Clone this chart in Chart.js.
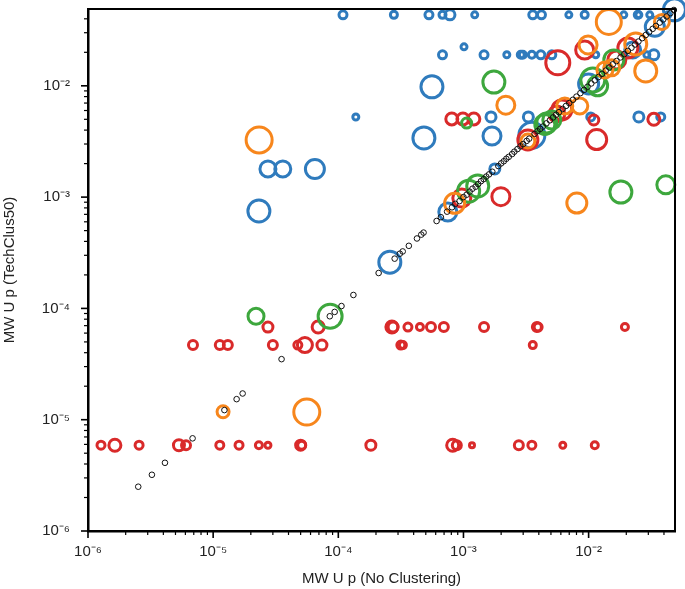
<!DOCTYPE html>
<html>
<head>
<meta charset="utf-8">
<script src="https://cdn.jsdelivr.net/npm/chart.js@4"></script>
<style>
  body { margin: 0; background: #fff; }
  canvas { display: block; }
</style>
</head>
<body>
<canvas id="chart" width="685" height="589"></canvas>
<script>
// [p no clustering, p TechClus50, ring size]
const blue = [
  [1.09e-4, 0.0434, 4], [2.78e-4, 0.0434, 3.5], [5.3e-4, 0.0434, 4], [6.8e-4, 0.0434, 3.5], [7.8e-4, 0.0434, 5],
  [1.23e-3, 0.0434, 3], [3.58e-3, 0.0434, 4], [4.2e-3, 0.0434, 4], [6.95e-3, 0.0434, 3], [9.3e-3, 0.0434, 3.5],
  [1.91e-2, 0.0434, 3], [2.47e-2, 0.0434, 3.5], [2.52e-2, 0.0434, 3], [3.08e-2, 0.0434, 3], [4.3e-2, 0.0434, 3],
  [4.85e-2, 0.0482, 11],
  [6.8e-4, 0.019, 4], [1.01e-3, 0.0224, 3], [1.46e-3, 0.019, 4], [2.22e-3, 0.019, 3], [2.87e-3, 0.019, 3.5],
  [2.98e-3, 0.019, 3.5], [3.52e-3, 0.019, 3.5], [4.15e-3, 0.019, 4], [5.08e-3, 0.019, 4], [1.14e-2, 0.019, 3],
  [2.92e-2, 0.019, 3], [3.32e-2, 0.019, 5],
  [1.38e-4, 5.25e-3, 3], [5.6e-4, 9.8e-3, 11], [4.83e-4, 3.4e-3, 11], [2.74e-5, 1.79e-3, 8], [3.6e-5, 1.79e-3, 8],
  [6.5e-5, 1.79e-3, 9.5], [2.32e-5, 7.5e-4, 11],
  [1.66e-3, 5.25e-3, 5], [1.69e-3, 3.54e-3, 9], [3.3e-3, 5.25e-3, 5], [3.52e-3, 3.6e-3, 13], [1.78e-3, 1.79e-3, 5],
  [7.5e-4, 7.35e-4, 9], [2.58e-4, 2.6e-4, 11],
  [1.04e-2, 5.25e-3, 4], [2.52e-2, 5.25e-3, 5], [3.77e-2, 5.25e-3, 4],
  [1.0e-2, 1.04e-2, 10], [3.38e-2, 3.39e-2, 9.5], [2.25e-2, 2.1e-2, 8]
];

const orange = [
  [2.33e-5, 3.26e-3, 13], [5.6e-5, 1.17e-5, 13], [1.2e-5, 1.18e-5, 6],
  [1.45e-2, 0.0375, 12.5], [9.9e-3, 0.0233, 9], [2.18e-3, 6.7e-3, 9], [6.45e-3, 6.59e-3, 8], [8.5e-3, 6.59e-3, 8],
  [2.86e-2, 0.0136, 11], [2.38e-2, 0.0238, 11], [3.85e-2, 0.0375, 7.5], [3.27e-3, 3.19e-3, 7],
  [8.5e-4, 8.8e-4, 10], [8.05e-3, 8.85e-4, 10], [1.35e-2, 0.0139, 8], [1.53e-2, 0.0145, 8]
];

const green = [
  [2.2e-5, 8.5e-5, 8], [8.6e-5, 8.5e-5, 12], [1.75e-3, 0.0108, 11], [1.06e-3, 4.63e-3, 5],
  [1.81e-2, 1.11e-3, 11], [4.14e-2, 1.29e-3, 9],
  [4.63e-3, 4.63e-3, 10], [4.47e-3, 4.5e-3, 10], [5.08e-3, 4.93e-3, 9],
  [1.1e-3, 1.13e-3, 11], [1.3e-3, 1.26e-3, 11],
  [1.08e-2, 1.13e-2, 12], [1.18e-2, 1.0e-2, 10], [1.59e-2, 1.71e-2, 10]
];

const red = [
  [5.67e-3, 0.0161, 12], [9.3e-3, 0.021, 9], [2.06e-2, 0.0219, 10], [1.99e-3, 1.01e-3, 9],
  [1.16e-2, 3.29e-3, 10], [6.11e-3, 6.07e-3, 10], [5.57e-3, 5.58e-3, 8], [3.27e-3, 3.26e-3, 10],
  [8.07e-4, 5.04e-3, 6], [9.9e-4, 5.04e-3, 6], [1.21e-3, 5.04e-3, 6],
  [1.1e-2, 4.93e-3, 5], [3.32e-2, 5.0e-3, 6], [1.68e-2, 1.71e-2, 9], [9.7e-4, 9.8e-4, 9],
  // row near 7e-5
  [2.74e-5, 6.8e-5, 5], [6.9e-5, 6.8e-5, 6], [2.68e-4, 6.8e-5, 6], [2.74e-4, 6.8e-5, 5], [3.6e-4, 6.8e-5, 4],
  [4.49e-4, 6.8e-5, 3.5], [5.5e-4, 6.8e-5, 4.5], [6.97e-4, 6.8e-5, 4.5], [1.46e-3, 6.8e-5, 4.5],
  [3.86e-3, 6.8e-5, 4.5], [3.95e-3, 6.8e-5, 4], [1.95e-2, 6.8e-5, 3.5],
  // row near 5e-5
  [6.9e-6, 4.68e-5, 4.5], [1.13e-5, 4.68e-5, 4.5], [1.31e-5, 4.68e-5, 4.5], [3.0e-5, 4.68e-5, 4.5],
  [4.75e-5, 4.68e-5, 4], [5.41e-5, 4.68e-5, 7.5], [7.4e-5, 4.68e-5, 5], [3.16e-4, 4.68e-5, 4],
  [3.28e-4, 4.68e-5, 3.5], [3.58e-3, 4.68e-5, 3.5],
  // row near 6e-6
  [1.27e-6, 5.9e-6, 4], [1.64e-6, 5.9e-6, 6], [2.56e-6, 5.9e-6, 4], [5.33e-6, 5.9e-6, 5.5], [6.07e-6, 5.9e-6, 4.5],
  [1.13e-5, 5.9e-6, 4], [1.61e-5, 5.9e-6, 4], [2.32e-5, 5.9e-6, 3.5], [2.74e-5, 5.9e-6, 3], [5.0e-5, 5.9e-6, 5],
  [5.1e-5, 5.9e-6, 4], [1.82e-4, 5.9e-6, 5], [8.2e-4, 5.9e-6, 6], [8.85e-4, 5.9e-6, 4.5], [1.17e-3, 5.9e-6, 2.5],
  [2.77e-3, 5.9e-6, 4.5], [3.52e-3, 5.9e-6, 4], [6.22e-3, 5.9e-6, 3], [1.12e-2, 5.9e-6, 3.5]
];

// small black circles along the diagonal
const diag = [
  [2.52e-6, 2.5e-6], [3.24e-6, 3.2e-6], [4.12e-6, 4.1e-6], [6.85e-6, 6.8e-6], [1.23e-5, 1.22e-5],
  [1.54e-5, 1.53e-5], [1.72e-5, 1.72e-5], [3.52e-5, 3.5e-5], [8.55e-5, 8.5e-5], [9.35e-5, 9.3e-5],
  [1.06e-4, 1.05e-4], [1.32e-4, 1.32e-4], [2.1e-4, 2.08e-4], [2.82e-4, 2.8e-4], [3.1e-4, 3.1e-4],
  [3.27e-4, 3.25e-4], [3.66e-4, 3.65e-4], [4.25e-4, 4.25e-4], [4.6e-4, 4.6e-4], [4.8e-4, 4.8e-4],
  [6.1e-4, 6.1e-4], [6.6e-4, 6.6e-4], [7.4e-4, 7.4e-4], [8.1e-4, 8.1e-4],
  [8.6e-4, 8.7e-4], [9.3e-4, 9.2e-4], [1.0e-3, 1.0e-3], [1.06e-3, 1.05e-3], [1.12e-3, 1.12e-3],
  [1.18e-3, 1.19e-3], [1.25e-3, 1.24e-3], [1.31e-3, 1.31e-3], [1.38e-3, 1.39e-3], [1.45e-3, 1.45e-3],
  [1.52e-3, 1.53e-3], [1.6e-3, 1.6e-3], [1.7e-3, 1.69e-3], [1.9e-3, 1.9e-3], [2.0e-3, 2.01e-3],
  [2.1e-3, 2.1e-3], [2.2e-3, 2.21e-3], [2.3e-3, 2.3e-3], [2.45e-3, 2.44e-3], [2.55e-3, 2.56e-3],
  [2.7e-3, 2.7e-3], [2.85e-3, 2.86e-3], [3.0e-3, 3.0e-3], [3.2e-3, 3.2e-3], [3.35e-3, 3.35e-3],
  [3.7e-3, 3.7e-3], [3.9e-3, 3.91e-3], [4.1e-3, 4.1e-3], [4.3e-3, 4.3e-3], [4.6e-3, 4.6e-3],
  [4.9e-3, 4.9e-3], [5.2e-3, 5.2e-3], [5.5e-3, 5.5e-3], [5.8e-3, 5.8e-3], [6.2e-3, 6.2e-3],
  [6.6e-3, 6.6e-3], [7.0e-3, 7.0e-3], [7.5e-3, 7.5e-3], [8.0e-3, 8.0e-3], [8.6e-3, 8.6e-3],
  [9.2e-3, 9.2e-3], [9.8e-3, 9.8e-3], [1.05e-2, 1.05e-2], [1.12e-2, 1.12e-2], [1.2e-2, 1.2e-2],
  [1.28e-2, 1.28e-2], [1.37e-2, 1.37e-2], [1.46e-2, 1.46e-2], [1.56e-2, 1.56e-2], [1.67e-2, 1.67e-2],
  [1.8e-2, 1.8e-2], [1.93e-2, 1.93e-2], [2.06e-2, 2.06e-2], [2.2e-2, 2.2e-2], [2.35e-2, 2.35e-2],
  [2.5e-2, 2.5e-2], [2.68e-2, 2.68e-2], [2.86e-2, 2.86e-2], [3.05e-2, 3.05e-2], [3.25e-2, 3.25e-2],
  [3.45e-2, 3.45e-2], [3.7e-2, 3.7e-2], [3.95e-2, 3.95e-2], [4.2e-2, 4.2e-2], [4.5e-2, 4.5e-2],
  [4.8e-2, 4.8e-2]
];

const axisMin = 1e-6;
const axisMax = 0.049;

const FONT = '"Liberation Sans", Arial, Helvetica, sans-serif';
const SUP = {'-': '\u207B', '0': '\u2070', '1': '\u00B9', '2': '\u00B2', '3': '\u00B3',
             '4': '\u2074', '5': '\u2075', '6': '\u2076', '7': '\u2077', '8': '\u2078', '9': '\u2079'};

function isPow10(v) {
  const e = Math.round(Math.log10(v));
  return Math.abs(v / Math.pow(10, e) - 1) < 1e-6;
}
function powLabel(v) {
  if (!isPow10(v)) return '';
  const e = String(Math.round(Math.log10(v)));
  return '10' + e.split('').map(c => SUP[c]).join('');
}

function ring(arr, color, width) {
  return {
    data: arr.map(p => ({x: p[0], y: p[1], r: p[2]})),
    borderColor: color,
    backgroundColor: 'rgba(0,0,0,0)',
    borderWidth: width,
    hoverRadius: 0,
    clip: false
  };
}

// box + major/minor tick marks
const frame = {
  id: 'frame',
  afterDraw(chart) {
    const ctx = chart.ctx, a = chart.chartArea;
    ctx.save();
    ctx.strokeStyle = '#000';
    ctx.lineWidth = 2;
    ctx.strokeRect(a.left, a.top, a.right - a.left, a.bottom - a.top);
    ['x', 'y'].forEach(id => {
      const s = chart.scales[id];
      for (let e = -6; e <= -1; e++) {
        for (let k = 1; k <= 9; k++) {
          const v = k * Math.pow(10, e);
          if (v < axisMin * 0.999 || v > axisMax) continue;
          const p = s.getPixelForValue(v);
          const len = k === 1 ? 7 : 4;
          ctx.lineWidth = k === 1 ? 1.6 : 1.2;
          ctx.beginPath();
          if (id === 'x') { ctx.moveTo(p, a.bottom); ctx.lineTo(p, a.bottom + len); }
          else { ctx.moveTo(a.left, p); ctx.lineTo(a.left - len, p); }
          ctx.stroke();
        }
      }
    });
    ctx.restore();
  }
};

const ctx = document.getElementById('chart').getContext('2d');
new Chart(ctx, {
  type: 'bubble',
  data: {
    datasets: [
      {
        data: diag.map(p => ({x: p[0], y: p[1], r: 2.8})),
        borderColor: '#111',
        backgroundColor: 'rgba(255,255,255,0)',
        borderWidth: 1,
        hoverRadius: 0,
        clip: false
      },
      ring(orange, '#f7861c', 3),
      ring(green, '#3da73d', 3),
      ring(red, '#d92a2a', 3),
      ring(blue, '#2f7bbd', 3)
    ]
  },
  options: {
    responsive: false,
    devicePixelRatio: 1,
    animation: false,
    events: [],
    layout: {
      autoPadding: false,
      padding: {left: 0, right: 10, top: 9, bottom: 0}
    },
    plugins: {
      legend: {display: false},
      tooltip: {enabled: false}
    },
    scales: {
      x: {
        type: 'logarithmic',
        position: 'bottom',
        min: axisMin,
        max: axisMax,
        afterFit: s => { s.height = 58; s.paddingLeft = 0; s.paddingRight = 0; },
        grid: {display: true, drawOnChartArea: false, drawTicks: false},
        border: {display: true, color: '#000', width: 2.5},
        ticks: {
          autoSkip: false,
          maxRotation: 0,
          padding: 12,
          color: '#222',
          font: {family: FONT, size: 15},
          callback: v => powLabel(v)
        },
        title: {
          display: true,
          text: 'MW U p (No Clustering)',
          color: '#222',
          font: {family: FONT, size: 15},
          padding: {top: 0, bottom: 1}
        }
      },
      y: {
        type: 'logarithmic',
        min: axisMin,
        max: axisMax,
        afterFit: s => { s.width = 88; s.paddingTop = 0; s.paddingBottom = 0; },
        grid: {display: true, drawOnChartArea: false, drawTicks: false},
        border: {display: true, color: '#000', width: 2.5},
        ticks: {
          autoSkip: false,
          padding: 18,
          color: '#222',
          font: {family: FONT, size: 15},
          callback: v => powLabel(v)
        },
        title: {
          display: true,
          text: 'MW U p (TechClus50)',
          color: '#222',
          font: {family: FONT, size: 15},
          padding: {top: 1, bottom: 0}
        }
      }
    }
  },
  plugins: [frame]
});
</script>
</body>
</html>
